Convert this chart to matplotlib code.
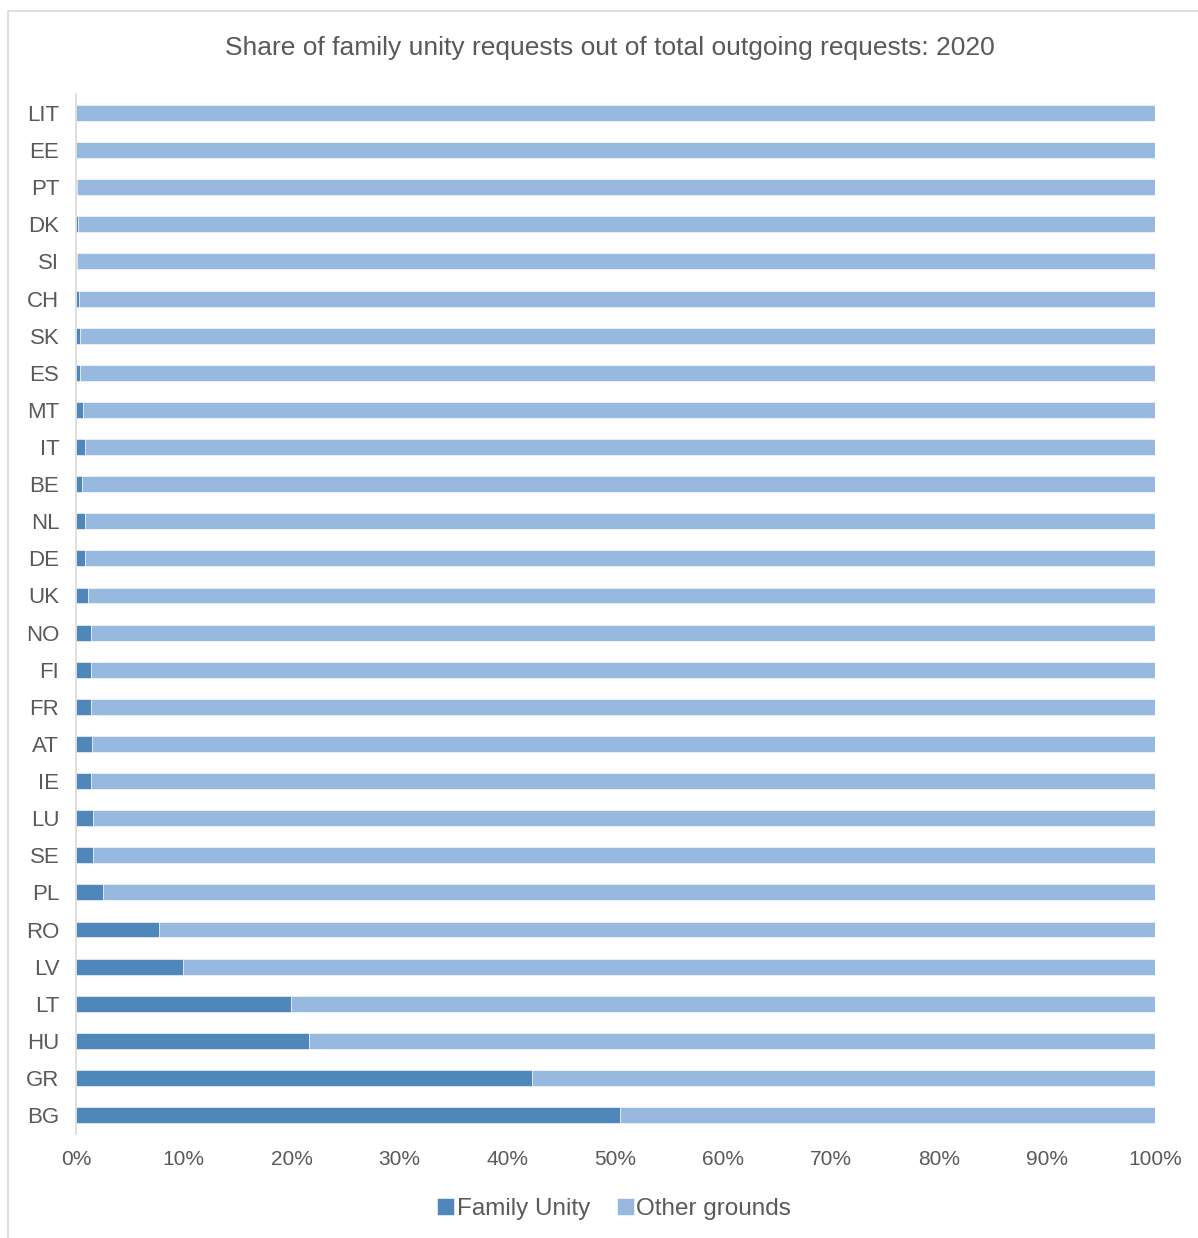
import matplotlib
matplotlib.use('Agg')
import matplotlib.pyplot as plt
import numpy as np
from matplotlib.patches import Rectangle
from matplotlib.ticker import PercentFormatter

plt.rcParams['font.family'] = ['Liberation Sans', 'DejaVu Sans']

countries = ['LIT', 'EE', 'PT', 'DK', 'SI', 'CH', 'SK', 'ES', 'MT', 'IT',
             'BE', 'NL', 'DE', 'UK', 'NO', 'FI', 'FR', 'AT', 'IE', 'LU',
             'SE', 'PL', 'RO', 'LV', 'LT', 'HU', 'GR', 'BG']
# share of family unity requests, in percent
family_unity = [0.0, 0.0, 0.1, 0.2, 0.1, 0.3, 0.4, 0.4, 0.65, 0.8,
                0.6, 0.85, 0.85, 1.15, 1.35, 1.35, 1.35, 1.45, 1.35, 1.6,
                1.6, 2.55, 7.7, 9.9, 19.9, 21.6, 42.3, 50.4]
other_grounds = [100 - v for v in family_unity]

dark = '#4F87BA'
light = '#97B9E0'
grey_txt = '#595959'

fig = plt.figure(figsize=(11.98, 12.38), dpi=100)
ax = fig.add_axes([0.0634, 0.0843, 0.9007, 0.8394])

y = np.arange(len(countries))
ax.barh(y, family_unity, height=0.43, color=dark, edgecolor='white', linewidth=0.4,
        label='Family Unity')
ax.barh(y, other_grounds, left=family_unity, height=0.43, color=light,
        edgecolor='white', linewidth=0.4, label='Other grounds')

ax.set_yticks(y)
ax.set_yticklabels(countries)
ax.set_ylim(-0.5, len(countries) - 0.5)
ax.invert_yaxis()
ax.set_xlim(0, 100)
ax.set_xticks(np.arange(0, 101, 10))
ax.xaxis.set_major_formatter(PercentFormatter(decimals=0))

for s in ['top', 'right', 'bottom']:
    ax.spines[s].set_visible(False)
ax.spines['left'].set_color('#D9D9D9')
ax.spines['left'].set_linewidth(1.2)
ax.tick_params(length=0, labelsize=15, colors=grey_txt)
ax.tick_params(axis='y', labelsize=16, pad=12)
ax.tick_params(axis='x', pad=12)

fig.text(0.509, 0.9615, 'Share of family unity requests out of total outgoing requests: 2020',
         ha='center', va='center', fontsize=19, color=grey_txt)

fig.legend(loc='center', bbox_to_anchor=(0.5125, 0.0235), ncol=2, frameon=False,
           fontsize=17.5, handlelength=0.7, handleheight=0.7, handletextpad=0.12,
           columnspacing=1.1, labelcolor=grey_txt)

# light outer frame of the chart area
fig.patches.append(Rectangle((8 / 1198, -0.01), 1.1, 1 - 11 / 1238 + 0.01,
                             transform=fig.transFigure, fill=False,
                             edgecolor='#D9D9D9', linewidth=1.2))

fig.savefig('out.png', dpi=100)
